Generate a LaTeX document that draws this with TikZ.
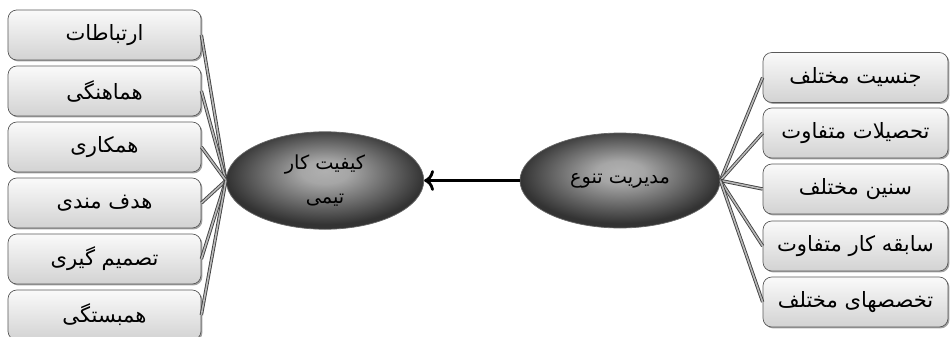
\documentclass[tikz,border=0pt]{standalone}
\usepackage{fontspec}
\newfontfamily\farsifont[Script=Arabic]{DejaVu Sans}
\TeXXeTstate=1
\usetikzlibrary{shapes.geometric, shadows, arrows.meta}
\pgfdeclareradialshading{ovalshade}{\pgfpoint{0bp}{5bp}}{color(0bp)=(gray!62); color(6bp)=(gray!70); color(25bp)=(black!80); color(50bp)=(black!80)}
\newcommand{\fa}[1]{\beginR #1\endR}

\begin{document}
\begin{tikzpicture}[>={To[scale=1.1]},
        box/.style={rectangle, rounded corners=5pt, draw=black!65, top color=gray!4, bottom color=gray!35,
            minimum height=1cm, font=\farsifont\fontsize{12}{14}\selectfont,
            drop shadow={shadow xshift=0.8pt, shadow yshift=-0.8pt, fill=black!60, opacity=0.6}},
        oval/.style={ellipse, draw=black!60, shading=ovalshade, minimum width=3.95cm, minimum height=1.95cm,
            font=\farsifont\fontsize{11}{13}\selectfont, align=center},
        link/.style={draw=black!75, double=gray!55, double distance=0.9pt, line width=0.5pt}
    ]
        \useasboundingbox (0, 0) rectangle (19, 6.72);

        % Faktoren der Teamarbeit (links)
        \node[box, minimum width=3.86cm] (L1) at (2.09, 6.02) {\fa{ارتباطات}};
        \node[box, minimum width=3.86cm] (L2) at (2.09, 4.90) {\fa{هماهنگی}};
        \node[box, minimum width=3.86cm] (L3) at (2.09, 3.78) {\fa{همکاری}};
        \node[box, minimum width=3.86cm] (L4) at (2.09, 2.66) {\fa{هدف مندی}};
        \node[box, minimum width=3.86cm] (L5) at (2.09, 1.54) {\fa{تصمیم گیری}};
        \node[box, minimum width=3.86cm] (L6) at (2.09, 0.42) {\fa{همبستگی}};

        % Merkmale der Vielfalt (rechts)
        \node[box, minimum width=3.7cm] (R1) at (17.11, 5.17) {\fa{جنسیت مختلف}};
        \node[box, minimum width=3.7cm] (R2) at (17.11, 4.06) {\fa{تحصیلات متفاوت}};
        \node[box, minimum width=3.7cm] (R3) at (17.11, 2.94) {\fa{سنین مختلف}};
        \node[box, minimum width=3.7cm] (R4) at (17.11, 1.80) {\fa{سابقه کار متفاوت}};
        \node[box, minimum width=3.7cm] (R5) at (17.11, 0.68) {\fa{تخصصهای مختلف}};

        % Ellipsen in der Mitte
        \node[oval] (Q) at (6.5, 3.11) {\fa{کیفیت کار}\\[6pt]\fa{تیمی}};
        \node[oval, minimum width=4cm, minimum height=1.9cm] (D) at (12.4, 3.11) {\fa{مدیریت تنوع}};

        % Verbindungen
        \foreach \i in {1,...,6}
            \draw[link] (Q.west) -- (L\i.east);
        \foreach \i in {1,...,5}
            \draw[link] (D.east) -- (R\i.west);

        \draw[->, line width=1.6pt] (D) -- (Q);
    \end{tikzpicture}
\end{document}
